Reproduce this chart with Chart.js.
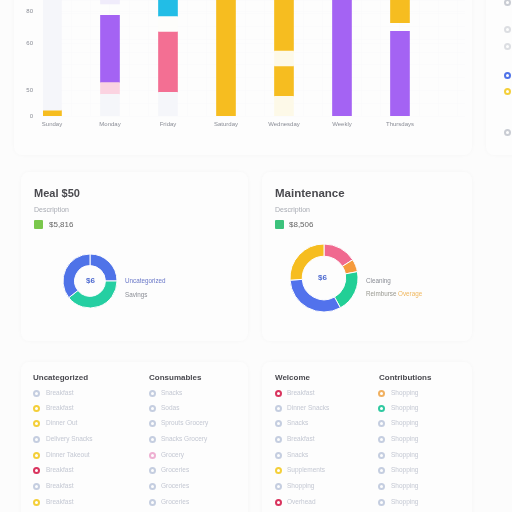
<!DOCTYPE html>
<html><head><meta charset="utf-8">
<script src="https://cdn.jsdelivr.net/npm/chart.js@4"></script>
<style>
html,body{margin:0;padding:0;width:512px;height:512px;overflow:hidden;background:#fcfcfc;font-family:"Liberation Sans",Arial,sans-serif}
.card{position:absolute;background:#fdfdfd;border-radius:8px;box-shadow:0 0 4px rgba(30,30,60,.03)}
.t{position:absolute;white-space:nowrap;filter:blur(.4px);line-height:1}
canvas{position:absolute}
.dot{position:absolute;width:3px;height:3px;border:2px solid #c5cee0;border-radius:50%;filter:blur(.4px)}
.sq{position:absolute;width:9px;height:9px;border-radius:1px}
</style></head><body>
<div class="card" style="left:14px;top:-20px;width:458px;height:175px"></div>
<div class="card" style="left:486px;top:-20px;width:60px;height:175px"></div>
<div class="card" style="left:21px;top:172px;width:227px;height:169px"></div>
<div class="card" style="left:262px;top:172px;width:210px;height:169px"></div>
<div class="card" style="left:21px;top:362px;width:227px;height:170px"></div>
<div class="card" style="left:262px;top:362px;width:210px;height:170px"></div>
<canvas id="bars" width="512" height="186" style="left:0;top:-50px;width:512px;height:186px"></canvas>
<canvas id="d1" width="80" height="80" style="left:50px;top:241px;width:80px;height:80px"></canvas>
<canvas id="d2" width="90" height="90" style="left:279px;top:233px;width:90px;height:90px"></canvas>
<div id="ui"></div>
<script>
const categories=['Sunday','Monday','Friday','Saturday','Wednesday','Weekly','Thursdays'];
const yTickValues=[0,26,74,106];
const yTickLabels=['0','50','60','80'];
const gold=[[0,6],null,null,[0,155],[20,51],null,[95,155]];
const gold2=[null,null,null,null,[66,155],null,null];
const purple=[null,[34,102.5],null,null,null,[0,155],[0,86]];
const pink=[null,null,[24,86],null,null,null,null];
const cyan=[null,null,[101,155],null,null,null,null];
const palePink=[null,[22,34],null,null,null,null,null];
const paleGrey=[[6,155],[0,22],[0,24],null,null,null,null];
const paleWhite=[null,null,[86,101],null,null,null,null];
const cream=[null,null,null,null,[0,20],null,null];
const cream2=[null,null,null,null,[51,66],null,null];
const paleLavender=[null,[114,155],null,null,null,null,null];
const mealValues=[25,39.4,35.6];
const maintenanceValues=[16,6,20,32,26];

const series=[[paleGrey,'#f5f6fa'],[paleWhite,'#fdfdfb'],[paleLavender,'#f0ecfb'],[palePink,'#fbd3e1'],[cream,'#fdf9e8'],[cream2,'#fdf9e8'],
 [gold,'#f6bd20'],[gold2,'#f6bd20'],[purple,'#a463f3'],[pink,'#f36f93'],[cyan,'#22bde6']];
const datasets=series.map(([arr,c])=>({
  data:arr.map((v,i)=>v?{x:i,y:v}:null).filter(Boolean),
  backgroundColor:c,barThickness:19,borderWidth:0,grouped:false}));
new Chart(document.getElementById('bars'),{type:'bar',data:{datasets},
 options:{responsive:false,animation:false,devicePixelRatio:1,
  plugins:{legend:{display:false},tooltip:{enabled:false}},
  layout:{autoPadding:false,padding:{left:0,right:47,top:0,bottom:0}},
  scales:{
   x:{type:'linear',offset:false,min:-0.155,max:7.121,border:{display:false},
    afterFit(s){s.height=20},
    afterBuildTicks(s){const t=[];for(let i=0;i<=21;i++){t.push({value:i/3})}s.ticks=t},
    grid:{offset:false,color:'#f9f9fb',lineWidth:.7,drawTicks:false},
    ticks:{autoSkip:false,maxRotation:0,padding:5,color:'#8a8d96',font:{size:6},
      callback(v){return Math.abs(v-Math.round(v))<1e-6&&categories[Math.round(v)]!==undefined?categories[Math.round(v)]:''}}},
   y:{min:0,max:155,border:{display:false},
    afterFit(s){s.width=43},
    afterBuildTicks(s){const t=[];for(let v=0;v<=155;v+=13)t.push({value:v});yTickValues.forEach(v=>{if(!t.find(k=>k.value===v))t.push({value:v})});s.ticks=t.sort((a,b)=>a.value-b.value)},
    grid:{color:'#f9f9fb',lineWidth:.7,drawTicks:false},
    ticks:{autoSkip:false,padding:10,color:'#8a8d96',font:{size:6},
      callback(v){const i=yTickValues.indexOf(v);return i>=0?yTickLabels[i]:''}}}
  }}});
function donut(id,vals,cols,cut,r){
 new Chart(document.getElementById(id),{type:'doughnut',
  data:{datasets:[{data:vals,backgroundColor:cols,borderColor:'#fdfdfd',borderWidth:1}]},
  options:{responsive:false,animation:false,devicePixelRatio:1,cutout:cut,radius:r,
   plugins:{legend:{display:false},tooltip:{enabled:false}}}});
}
donut('d1',mealValues,['#4f73e8','#25cfa2','#4f73e8'],'57%',27);
donut('d2',maintenanceValues,['#f0698f','#f59a3c','#22cf96','#5272ec','#f6bd20'],'64%',34);

const ui=document.getElementById('ui');
const NARROW='"Liberation Sans Narrow","Liberation Sans",sans-serif';
function txt(x,y,s,size,col,w,fam){const d=document.createElement('div');d.className='t';d.textContent=s;
 d.style.cssText=`left:${x}px;top:${y-size/2}px;font-size:${size}px;color:${col};font-weight:${w||400};${fam?'font-family:'+fam:''}`;ui.appendChild(d);return d}
function sq(x,y,c){const d=document.createElement('div');d.className='sq';d.style.cssText=`left:${x}px;top:${y}px;background:${c}`;ui.appendChild(d)}
function dot(x,y,c,fill){const d=document.createElement('div');d.className='dot';d.style.cssText=`left:${x-3.5}px;top:${y-3.5}px;border-color:${c};background:${fill?'#fff':'transparent'}`;ui.appendChild(d)}
txt(34,193,'Meal $50',11,'#4a4a4f',700);
txt(275,193.5,'Maintenance',11.5,'#4a4a4f',700,NARROW);
txt(34,209,'Description',7,'#a9acb4');
txt(275,209,'Description',7,'#a9acb4');
sq(34,220,'#7ac74c');txt(49,224.5,'$5,816',8,'#666');
sq(275,220,'#3cc27c');txt(289,224.5,'$8,506',8,'#666');
txt(86,281,'$6',8,'#4f6bd0',700);
txt(318,278,'$6',8,'#4f6bd0',700);
txt(125,281,'Uncategorized',6.3,'#6a78c8');
txt(125,295,'Savings',6.3,'#8b8e96');
txt(366,281,'Cleaning',6.3,'#8b8e96');
txt(366,294,'Reimburse',6.3,'#9a9a92');txt(398,294,'Overage',6.3,'#f0b860');
const rows=[393,408,423,439,455,470,486,502];
const G='#c5cee0',Y='#f4cf3a',R='#d9345e',P='#eeb0d2',O='#f0b060',T='#2fc9a0';
const cols=[
 {h:'Uncategorized',hx:33,dx:36,tx:46,dots:[G,Y,Y,G,Y,R,G,Y],labels:['Breakfast','Breakfast','Dinner Out','Delivery Snacks','Dinner Takeout','Breakfast','Breakfast','Breakfast']},
 {h:'Consumables',hx:149,dx:152,tx:161,dots:[G,G,G,G,P,G,G,G],labels:['Snacks','Sodas','Sprouts Grocery','Snacks Grocery','Grocery','Groceries','Groceries','Groceries']},
 {h:'Welcome',hx:275,dx:278,tx:287,dots:[R,G,G,G,G,Y,G,R],labels:['Breakfast','Dinner Snacks','Snacks','Breakfast','Snacks','Supplements','Shopping','Overhead']},
 {h:'Contributions',hx:379,dx:381,tx:391,dots:[O,T,G,G,G,G,G,G],labels:['Shopping','Shopping','Shopping','Shopping','Shopping','Shopping','Shopping','Shopping']}];
cols.forEach(c=>{txt(c.hx,378,c.h,8,'#4a4a50',700,NARROW);
 rows.forEach((y,i)=>{dot(c.dx,y,c.dots[i],c.dots[i]!==G&&c.dots[i]!==P);txt(c.tx,y,c.labels[i],6.5,'#c4c8d3')})});
[[507,2,'#c9ccd3'],[507,29,'#dcdee2'],[507,46,'#dcdee2'],[507,75,'#4f73e8'],[507,91,'#f4cf3a'],[507,132,'#c9ccd3']].forEach(a=>dot(a[0],a[1],a[2]));
</script></body></html>
